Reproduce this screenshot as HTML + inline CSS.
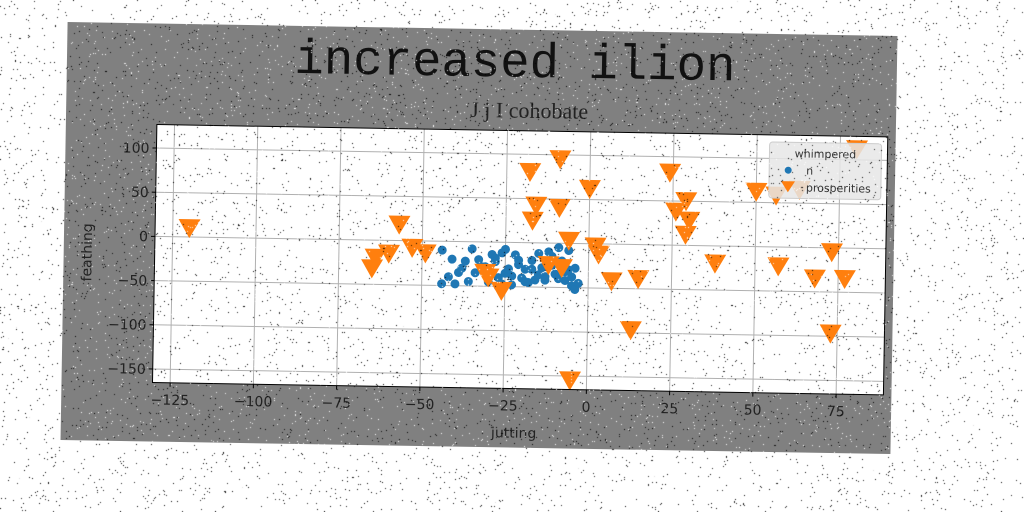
<!DOCTYPE html>
<html><head><meta charset="utf-8"><style>
html,body{margin:0;padding:0;background:#fff;width:1024px;height:512px;overflow:hidden}
svg{position:absolute;left:0;top:0}
#noise{position:absolute;left:0;top:0;pointer-events:none}
</style></head><body>
<svg id="chart" width="1024" height="512">
<g id="rot" transform="rotate(0.97 479 238)">
<rect x="64" y="29" width="830" height="418" fill="#808080"/>
<text x="512" y="76" text-anchor="middle" font-family="Liberation Mono, DejaVu Sans Mono, monospace" font-size="49" fill="#111">increased ilion</text>
<text x="527" y="117" text-anchor="middle" font-family="Liberation Serif, serif" font-size="22" fill="#222">J j I cohobate</text>
<rect x="155" y="130" width="731" height="258" fill="#fff"/>
<g id="grid"></g>
<g id="marks"></g>
<rect x="155" y="130" width="731" height="258" fill="none" stroke="#000" stroke-width="1"/>
<g id="ticks"></g>
<text x="517" y="437" text-anchor="middle" font-family="DejaVu Sans, sans-serif" font-size="14" fill="#222">jutting</text>
<text x="0" y="0" transform="translate(92,259) rotate(-90)" text-anchor="middle" font-family="DejaVu Sans, sans-serif" font-size="14" fill="#222">feathing</text>
<g>
<rect x="768" y="137" width="112" height="56" rx="3" fill="#e6e6e6" fill-opacity="0.85" stroke="#ccc"/>
<text x="824" y="152" text-anchor="middle" font-family="DejaVu Sans, sans-serif" font-size="11" fill="#333">whimpered</text>
<circle cx="787" cy="165" r="3.5" fill="#1f77b4"/>
<text x="805" y="169" font-family="DejaVu Sans, sans-serif" font-size="11" fill="#333">n</text>
<path d="M780,176 L794,176 L787,187 Z" fill="#ff7f0e"/>
<text x="805" y="186" font-family="DejaVu Sans, sans-serif" font-size="11" fill="#333">prosperities</text>
</g>
</g>
</svg>
<canvas id="noise" width="1024" height="512"></canvas>
<script>
const xTicks=[-125,-100,-75,-50,-25,0,25,50,75];
const yTicks=[-150,-100,-50,0,50,100];
const xTickLabels=["\u2212125","\u2212100","\u221275","\u221250","\u221225","0","25","50","75"];
const yTickLabels=["\u2212150","\u2212100","\u221250","0","50","100"];
const nX=[-44,-42,-40,-38,-37,-36,-35,-34,-33,-32,-30,-29,-28,-27,-26,-25,-24,-23,-22,-21,-20,-19,-18,-17,-16,-15,-14,-13,-12,-11,-10,-9,-8,-7,-6,-5,-4,-3,-44,-41,-39,-31,-27,-25,-23,-21,-19,-17,-15,-13,-11,-9,-7,-5,-4,-6,-28,-26];
const nY=[-10,-40,-48,-30,-22,-45,-8,-35,-20,-28,-45,-14,-18,-40,-12,-35,-30,-48,-14,-25,-40,-30,-45,-20,-42,-36,-28,-38,-10,-25,-35,-5,-20,-42,-30,-48,-52,-45,-48,-20,-35,-28,-50,-8,-38,-20,-44,-30,-12,-42,-15,-40,-32,-38,-28,-8,-22,-47];
const pX=[-120,-65,-64,-60,-57,-53,-49,-31,-30,-26,-18,-9,-16,-17,-9,-6,-12,-8,2,0,3,7,15,13,-5,24,26,29,30,29,38,50,56,73,73,68,77,57,80,63];
const pY=[10,-32,-20,-15,18,-8,-14,-35,-40,-55,80,95,42,25,40,3,-25,-28,-3,62,-12,-42,-39,-97,-155,82,38,50,28,12,-20,62,58,-5,-97,-35,-35,-22,112,65];
const AX={l:155,t:130,w:731,h:258,xmin:-130.3,xmax:89.2,ymin:-165.3,ymax:126.6};
function sx(v){return AX.l+(v-AX.xmin)/(AX.xmax-AX.xmin)*AX.w}
function sy(v){return AX.t+(AX.ymax-v)/(AX.ymax-AX.ymin)*AX.h}
const NS="http://www.w3.org/2000/svg";
function mk(tag,attrs,parent){const e=document.createElementNS(NS,tag);for(const k in attrs)e.setAttribute(k,attrs[k]);parent.appendChild(e);return e}
const grid=document.getElementById('grid'),ticks=document.getElementById('ticks'),marks=document.getElementById('marks');
xTicks.forEach((v,i)=>{const x=sx(v);
 const g=mk('line',{x1:x,x2:x,y1:AX.t,y2:AX.t+AX.h,stroke:'#b0b0b0','stroke-width':1},grid);
 
 const t=mk('line',{x1:x,x2:x,y1:AX.t+AX.h,y2:AX.t+AX.h+4,stroke:'#000'},ticks);
 
 const l=mk('text',{x:x,y:AX.t+AX.h+22,'text-anchor':'middle','font-family':'DejaVu Sans, sans-serif','font-size':14,fill:'#222'},ticks);
 l.textContent=xTickLabels[i];
 });
yTicks.forEach((v,i)=>{const y=sy(v);
 const g=mk('line',{x1:AX.l,x2:AX.l+AX.w,y1:y,y2:y,stroke:'#b0b0b0','stroke-width':1},grid);
 
 const t=mk('line',{x1:AX.l-4,x2:AX.l,y1:y,y2:y,stroke:'#000'},ticks);
 
 const l=mk('text',{x:AX.l-7,y:y+5,'text-anchor':'end','font-family':'DejaVu Sans, sans-serif','font-size':14,fill:'#222'},ticks);
 l.textContent=yTickLabels[i];
 });
nX.forEach((v,i)=>{const c=mk('circle',{cx:sx(v),cy:sy(nY[i]),r:4.5,fill:'#1f77b4'},marks);
 });
pX.forEach((v,i)=>{const x=sx(v),y=sy(pY[i]);
 if(y<AX.t-10)return;
 const p=mk('path',{d:`M${x-11},${y-9} L${x+11},${y-9} L${x},${y+10} Z`,fill:'#ff7f0e'},marks);
 });
// decorative speckle noise
const cv=document.getElementById('noise').getContext('2d');let s=12345;
function rnd(){s=(s*1103515245+12345)&0x7fffffff;return s/0x7fffffff}
for(let i=0;i<18000;i++){const x=rnd()*1024,y=rnd()*512;cv.fillStyle=rnd()<0.5?'rgba(0,0,0,0.85)':'rgba(255,255,255,0.85)';cv.fillRect(x|0,y|0,1,1);}
</script>
</body></html>
